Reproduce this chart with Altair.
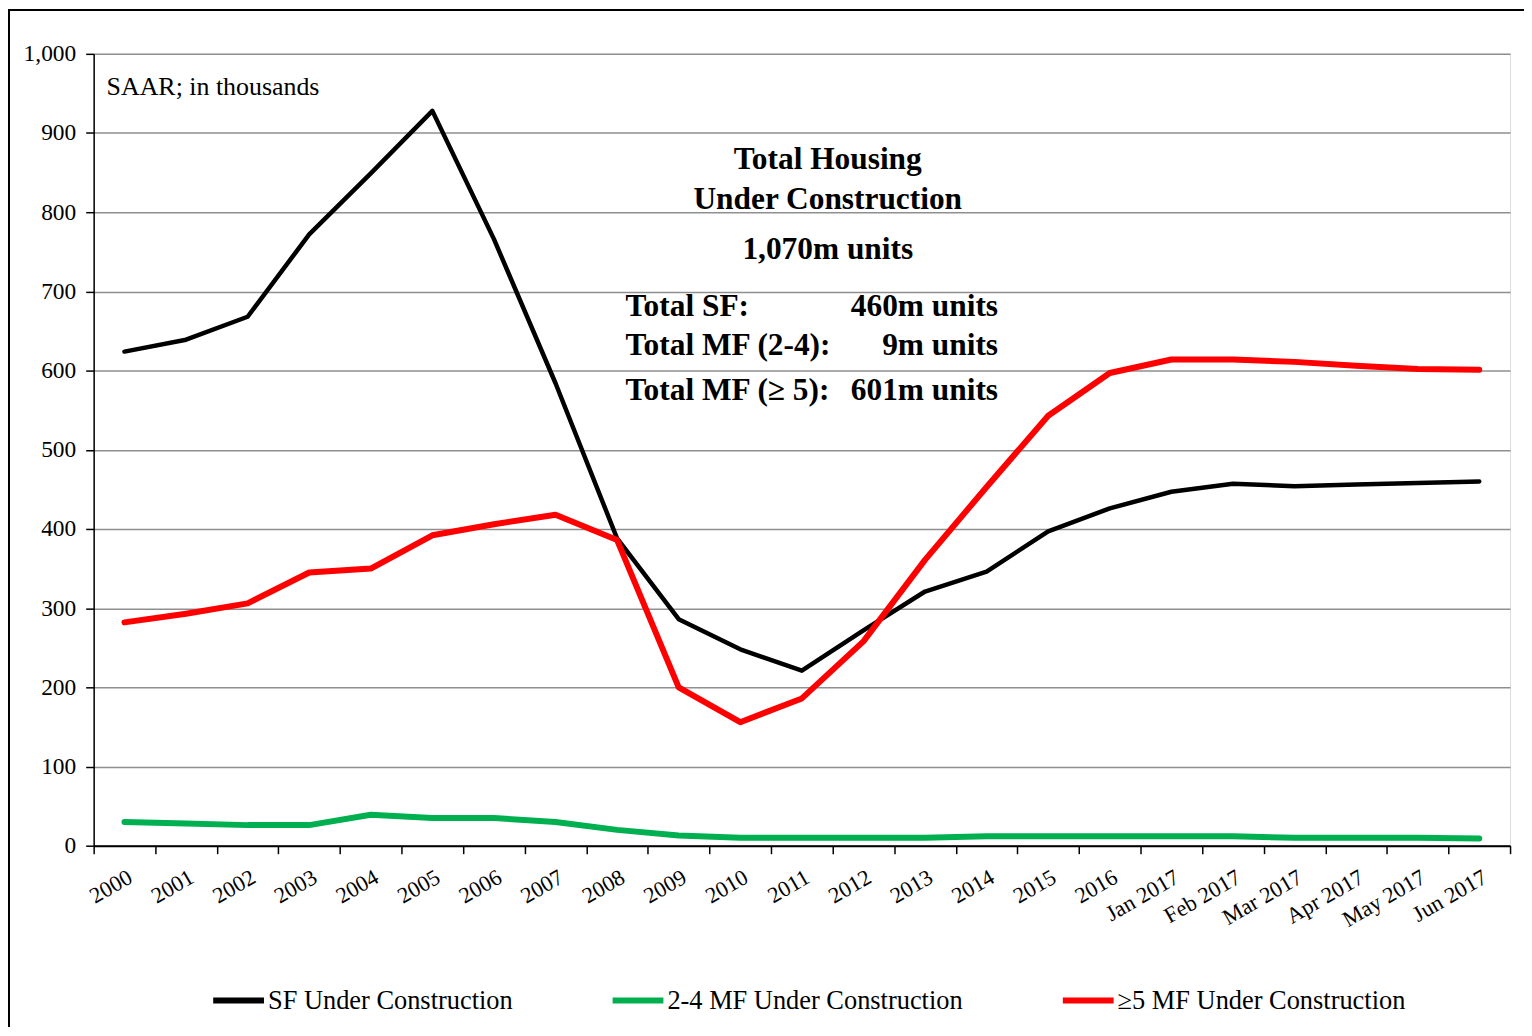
import altair as alt
import pandas as pd

categories = ["2000", "2001", "2002", "2003", "2004", "2005", "2006", "2007", "2008",
              "2009", "2010", "2011", "2012", "2013", "2014", "2015", "2016",
              "Jan 2017", "Feb 2017", "Mar 2017", "Apr 2017", "May 2017", "Jun 2017"]
sf_values = [624, 639, 668, 772, 849, 928, 766, 584, 388, 286, 248, 221, 272, 321, 346,
             397, 426, 447, 457, 454, 456, 458, 460]
mf24_values = [30, 28, 26, 26, 39, 35, 35, 30, 20, 13, 10, 10, 10, 10, 12, 12, 12, 12,
               12, 10, 10, 10, 9]
mf5_values = [282, 293, 306, 345, 350, 392, 406, 418, 386, 200, 156, 186, 258, 361, 453,
              543, 597, 614, 614, 611, 606, 602, 601]
series_names = ["SF Under Construction", "2-4 MF Under Construction", "≥5 MF Under Construction"]
series_colors = ["#000000", "#00B050", "#FF0000"]
y_ticks = [0, 100, 200, 300, 400, 500, 600, 700, 800, 900, 1000]

note_text = "SAAR; in thousands"
title_lines = ["Total Housing", "Under Construction", "1,070m units"]
total_labels = ["Total SF:", "Total MF (2-4):", "Total MF (≥ 5):"]
total_values = ["460m units", "9m units", "601m units"]

rows = []
for name, vals in zip(series_names, [sf_values, mf24_values, mf5_values]):
    for c, v in zip(categories, vals):
        rows.append({"cat": c, "value": v, "series": name})
df = pd.DataFrame(rows)

W, H = 1422, 795
FONT = "Liberation Serif"

x_enc = alt.X("cat:N", sort=categories, bandPosition=0.5,
              scale=alt.Scale(type="band", paddingInner=0, paddingOuter=0),
              axis=alt.Axis(title=None, tickBand="extent", labelAngle=-30,
                            labelAlign="right", labelBaseline="top", labelPadding=12,
                            tickSize=8, tickColor="black", tickWidth=1.5,
                            domainColor="black", domainWidth=2,
                            labelFont=FONT, labelFontSize=22.5, labelColor="black",
                            grid=False))
y_enc = alt.Y("value:Q", scale=alt.Scale(domain=[0, 1000], nice=False),
              axis=alt.Axis(title=None, values=y_ticks, format=",.0f", tickSize=8,
                            tickColor="black", tickWidth=1.5, domainColor="black",
                            domainWidth=1.5, labelFont=FONT, labelFontSize=23.5,
                            labelColor="black", labelPadding=10,
                            grid=True, gridColor="#8f8f8f", gridWidth=1.5))
color_enc = alt.Color("series:N",
                      scale=alt.Scale(domain=series_names, range=series_colors),
                      legend=alt.Legend(orient="none", legendX=117, legendY=922,
                                        direction="horizontal", title=None,
                                        symbolType="stroke", symbolStrokeWidth=6,
                                        symbolSize=2600, labelFont=FONT,
                                        labelFontSize=26.5, labelColor="black",
                                        labelOffset=1, columnPadding=88,
                                        labelLimit=400))

widths = [4.5, 6, 6]
layers = []
for name, w in zip(series_names, widths):
    layers.append(
        alt.Chart(df).transform_filter(alt.datum.series == name)
        .mark_line(strokeWidth=w, strokeCap="round", strokeJoin="round")
        .encode(x=x_enc, y=y_enc, color=color_enc)
    )

def text_layer(txt, x, y, align, weight, size):
    return alt.Chart(pd.DataFrame({"t": [txt]})).mark_text(
        align=align, baseline="middle", font=FONT, fontWeight=weight,
        fontSize=size, color="black"
    ).encode(x=alt.value(x), y=alt.value(y), text="t:N")

anns = [text_layer(note_text, 13, 33, "left", "normal", 26)]
for line, yy in zip(title_lines, [107, 147, 197]):
    anns.append(text_layer(line, 737, yy, "center", "bold", 31.5))
for lab, val, yy in zip(total_labels, total_values, [254, 293, 339]):
    anns.append(text_layer(lab, 534, yy, "left", "bold", 31.5))
    anns.append(text_layer(val, 908, yy, "right", "bold", 31.5))

frame = alt.Chart(pd.DataFrame({"a": [0]})).mark_rect(
    fill="transparent", stroke="black", strokeWidth=2
).encode(x=alt.value(-85), x2=alt.value(1500), y=alt.value(-44), y2=alt.value(1100))

chart = alt.layer(frame, *layers, *anns).properties(
    width=W, height=H,
    autosize=alt.AutoSizeParams(type="none"),
    padding={"left": 86, "top": 44, "right": 14, "bottom": 180},
).configure_view(stroke=None).configure(background="white")

chart.save("out.html", embed_options={"renderer": "svg", "actions": False})
